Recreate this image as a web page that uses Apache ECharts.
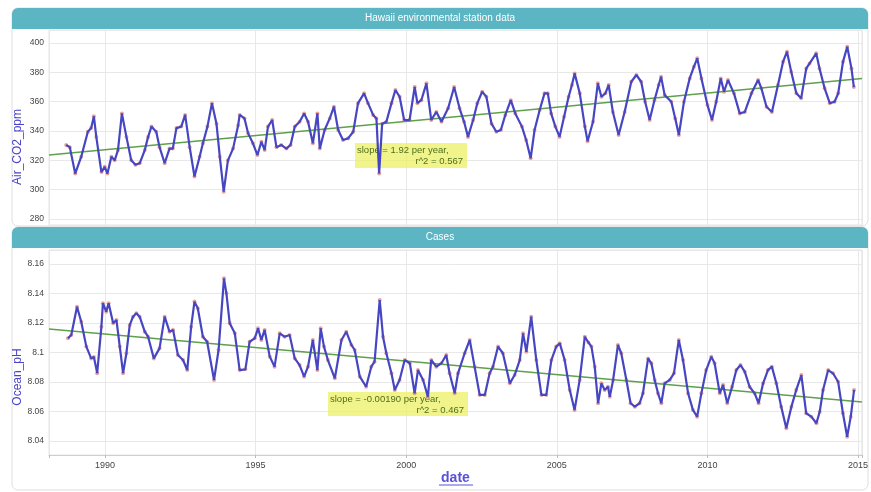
<!DOCTYPE html>
<html>
<head>
<meta charset="utf-8">
<script src="https://cdn.jsdelivr.net/npm/echarts@6/dist/echarts.min.js"></script>
<style>html,body{margin:0;padding:0;background:#fff}#c{width:871px;height:492px}</style>
</head>
<body>
<div id="c"></div>
<script>
const co2Dates = [1988.71,1988.83,1989.01,1989.21,1989.43,1989.54,1989.63,1989.71,1989.88,1989.99,1990.08,1990.21,1990.32,1990.43,1990.56,1990.71,1990.87,1991.01,1991.15,1991.32,1991.43,1991.54,1991.70,1991.81,1991.98,1992.14,1992.25,1992.37,1992.53,1992.66,1992.81,1992.97,1993.14,1993.25,1993.40,1993.55,1993.70,1993.81,1993.94,1994.08,1994.25,1994.42,1994.47,1994.63,1994.75,1994.91,1995.06,1995.19,1995.30,1995.41,1995.55,1995.69,1995.85,1996.02,1996.16,1996.30,1996.46,1996.61,1996.74,1996.90,1997.05,1997.13,1997.29,1997.46,1997.60,1997.74,1997.90,1998.07,1998.24,1998.40,1998.60,1998.73,1998.90,1999.01,1999.10,1999.20,1999.34,1999.51,1999.64,1999.78,1999.93,2000.11,2000.28,2000.37,2000.50,2000.67,2000.83,2001.00,2001.17,2001.39,2001.59,2001.77,2001.92,2002.05,2002.22,2002.36,2002.52,2002.66,2002.83,2002.99,2003.14,2003.29,2003.47,2003.62,2003.84,2003.98,2004.13,2004.26,2004.43,2004.59,2004.70,2004.81,2004.95,2005.09,2005.24,2005.39,2005.50,2005.59,2005.76,2005.93,2006.02,2006.20,2006.36,2006.48,2006.61,2006.72,2006.86,2007.05,2007.25,2007.47,2007.64,2007.80,2007.93,2008.08,2008.24,2008.38,2008.46,2008.58,2008.80,2008.93,2009.05,2009.22,2009.41,2009.55,2009.66,2009.80,2010.00,2010.15,2010.29,2010.44,2010.55,2010.68,2010.88,2011.07,2011.24,2011.46,2011.68,2011.79,2011.96,2012.14,2012.34,2012.51,2012.64,2012.78,2012.95,2013.11,2013.28,2013.39,2013.61,2013.72,2013.89,2014.06,2014.22,2014.34,2014.50,2014.64,2014.78,2014.86];
const co2Values = [330.5,329,311,322.5,339.5,342,350,336,312,315.6,311,322.5,320,327,352,336,320,317,318,327,336,343,339.5,329,318,328,328,342,343,351,329,309,322.5,331.6,343,359,345,322.5,298.6,320,328,344,351,348.6,338.4,331.6,323.6,332.7,327,343,347.5,329,330.5,328,330.5,343,346.3,352,346.3,331.6,352,328,340.7,348.6,356.6,340.7,333.9,335,339.5,359,365.7,359,351,348.6,311,345,346.3,359,368,363.4,347.5,347.5,370,359,361,372.5,347.5,353,346.3,355.5,370,355.5,346.3,336,347.5,359,366.8,363.4,345,339.5,340.7,351,361,352,343,333.9,321.4,340.7,354.3,365.7,365.7,352,343,336,349.8,363.4,371.4,379.3,365.7,343,333,346.3,372.5,363.4,365.7,371.4,353,337.3,353,373.6,378.2,373.6,360,347.5,361,371.4,377,364.5,360,348.6,337.3,360,375.9,383.9,389.6,375.9,357.7,347.5,360,375.9,366.8,374.8,365.7,352,353,365.7,374.8,369.1,356.6,353,371.4,387.3,394.1,380.5,365.7,362.3,382.7,386.1,393,382.7,369.1,359,360,365.7,387.3,397.5,382.7,370];

const phDates = [1988.77,1988.88,1989.07,1989.21,1989.38,1989.54,1989.63,1989.74,1989.88,1989.93,1990.04,1990.12,1990.27,1990.38,1990.49,1990.60,1990.71,1990.82,1990.93,1991.04,1991.15,1991.32,1991.43,1991.62,1991.81,1991.98,1992.14,1992.26,1992.42,1992.59,1992.73,1992.86,1992.97,1993.08,1993.25,1993.39,1993.62,1993.77,1993.95,1994.03,1994.14,1994.31,1994.47,1994.66,1994.80,1994.97,1995.08,1995.19,1995.30,1995.47,1995.63,1995.80,1995.96,1996.13,1996.30,1996.46,1996.61,1996.74,1996.90,1997.05,1997.16,1997.27,1997.40,1997.63,1997.85,1998.01,1998.18,1998.29,1998.46,1998.67,1998.84,1998.95,1999.12,1999.23,1999.34,1999.51,1999.62,1999.78,1999.95,2000.12,2000.28,2000.39,2000.56,2000.72,2000.83,2001.00,2001.17,2001.33,2001.44,2001.61,2001.72,2001.94,2002.11,2002.27,2002.44,2002.61,2002.77,2002.88,2003.05,2003.21,2003.44,2003.60,2003.77,2003.88,2003.99,2004.15,2004.32,2004.49,2004.65,2004.82,2004.98,2005.10,2005.26,2005.43,2005.59,2005.76,2005.93,2006.05,2006.15,2006.26,2006.37,2006.48,2006.59,2006.70,2006.76,2006.87,2007.03,2007.14,2007.31,2007.45,2007.59,2007.75,2007.86,2008.03,2008.14,2008.25,2008.36,2008.47,2008.58,2008.75,2008.89,2009.05,2009.19,2009.36,2009.52,2009.66,2009.80,2009.96,2010.13,2010.24,2010.41,2010.52,2010.66,2010.82,2010.96,2011.10,2011.24,2011.40,2011.57,2011.70,2011.85,2012.01,2012.14,2012.29,2012.45,2012.62,2012.79,2012.95,2013.12,2013.28,2013.45,2013.62,2013.73,2013.84,2014.01,2014.17,2014.34,2014.50,2014.64,2014.76,2014.87];
const phValues = [8.1096,8.1119,8.131,8.1209,8.104,8.096,8.097,8.086,8.1175,8.1334,8.1277,8.1334,8.1198,8.122,8.104,8.086,8.0995,8.1186,8.1243,8.1266,8.1243,8.1141,8.1107,8.096,8.1028,8.1243,8.1141,8.1153,8.0983,8.0949,8.0881,8.1175,8.1345,8.13,8.1107,8.1073,8.0814,8.1017,8.1503,8.1401,8.1198,8.113,8.0881,8.0886,8.1073,8.1096,8.1164,8.1085,8.1153,8.0972,8.0904,8.113,8.1107,8.1119,8.096,8.0915,8.0836,8.0904,8.1085,8.0881,8.1164,8.104,8.0949,8.0825,8.1085,8.1141,8.1051,8.1017,8.0836,8.0768,8.0904,8.0938,8.1356,8.1107,8.0995,8.0859,8.0746,8.0814,8.0949,8.0927,8.0723,8.0881,8.0814,8.07,8.0949,8.0904,8.0927,8.0983,8.0859,8.0723,8.0859,8.0995,8.1085,8.0904,8.0712,8.0712,8.0859,8.0904,8.104,8.0995,8.0791,8.0847,8.0949,8.113,8.1005,8.1243,8.0949,8.0712,8.0712,8.0949,8.104,8.1062,8.0949,8.0746,8.061,8.0814,8.1107,8.1068,8.104,8.0904,8.0656,8.0791,8.0746,8.0768,8.07,8.0814,8.1051,8.0995,8.0814,8.0656,8.0633,8.0656,8.0723,8.096,8.0927,8.0814,8.0723,8.0656,8.0791,8.0814,8.0859,8.1085,8.0949,8.0723,8.061,8.0565,8.0723,8.0881,8.0972,8.0927,8.0723,8.078,8.0656,8.0768,8.0881,8.0915,8.087,8.0768,8.0723,8.0656,8.0791,8.0881,8.0904,8.0791,8.0633,8.0486,8.0633,8.0746,8.0847,8.0588,8.0565,8.052,8.0599,8.0746,8.0881,8.0859,8.0802,8.0588,8.0429,8.0565,8.0746];

const trendDates = [1988.14, 2015.13];
const co2Trend = [323.7, 375.9];
const phTrend = [8.1160, 8.0665];

const xTicks = [1990, 1995, 2000, 2005, 2010, 2015];
const co2Ticks = [280, 300, 320, 340, 360, 380, 400];
const phTicks = [8.04, 8.06, 8.08, 8.1, 8.12, 8.14, 8.16];

const co2Note = ['slope = 1.92 per year,', 'r^2 = 0.567'];
const phNote = ['slope = -0.00190 per year,', 'r^2 = 0.467'];

const pair = (xs, ys) => xs.map((x, i) => [x, ys[i]]);
const near = (v, list) => list.some(t => Math.abs(v - t) < 1e-6);

const FONT = 'Liberation Sans, Arial, sans-serif';
const lineColor = '#4646c2';
const dotColor = '#e88a7c';
const trendColor = '#5fa04a';
const teal = '#5bb5c3';
const gridColor = '#e8e8e8';

const chart = echarts.init(document.getElementById('c'), null, {renderer: 'canvas'});

function xAxisFor(gi, showLabels) {
  return {
    type: 'value', gridIndex: gi, min: trendDates[0], max: trendDates[1], splitNumber: 5,
    axisLine: {show: showLabels, lineStyle: {color: '#cfcfcf'}},
    axisTick: {show: showLabels, length: 3, lineStyle: {color: '#bbb'}},
    axisLabel: {show: showLabels, fontSize: 9, color: '#444', fontFamily: FONT, margin: 6,
      formatter: v => near(v, xTicks) ? String(Math.round(v)) : ''},
    splitLine: {show: true, lineStyle: {color: gridColor, width: 1}},
    name: showLabels ? 'date' : '', nameLocation: 'middle', nameGap: 15,
    nameTextStyle: {fontSize: 14, fontWeight: 'bold', color: '#5a52d6', fontFamily: FONT}
  };
}

function yAxisFor(gi, min, max, ticks) {
  return {
    type: 'value', gridIndex: gi, min: min, max: max, splitNumber: 7,
    axisLine: {show: false}, axisTick: {show: false},
    axisLabel: {fontSize: 8.5, color: '#444', fontFamily: FONT, margin: 5,
      formatter: v => near(v, ticks) ? String(+v.toFixed(4)) : ''},
    splitLine: {show: true, lineStyle: {color: gridColor, width: 1}}
  };
}

const option = {
  backgroundColor: '#ffffff',
  animation: false,
  grid: [
    {left: 49, width: 813, top: 30, height: 195, show: true, borderColor: '#e4e4e4', borderWidth: 1},
    {left: 49, width: 813, top: 250, height: 205, show: true, borderColor: '#e4e4e4', borderWidth: 1}
  ],
  xAxis: [xAxisFor(0, false), xAxisFor(1, true)],
  yAxis: [
    yAxisFor(0, 275.9, 408.9, co2Ticks),
    yAxisFor(1, 8.0305, 8.1695, phTicks)
  ],
  series: [
    {type: 'line', xAxisIndex: 0, yAxisIndex: 0, data: pair(trendDates, co2Trend), showSymbol: false,
      lineStyle: {color: trendColor, width: 1.5}, z: 3, silent: true},
    {type: 'scatter', xAxisIndex: 0, yAxisIndex: 0, data: pair(co2Dates, co2Values), symbolSize: 4,
      itemStyle: {color: dotColor}, z: 2},
    {type: 'line', xAxisIndex: 0, yAxisIndex: 0, data: pair(co2Dates, co2Values), showSymbol: false,
      lineStyle: {color: lineColor, width: 2.2}, z: 4},
    {type: 'line', xAxisIndex: 1, yAxisIndex: 1, data: pair(trendDates, phTrend), showSymbol: false,
      lineStyle: {color: trendColor, width: 1.5}, z: 3, silent: true},
    {type: 'scatter', xAxisIndex: 1, yAxisIndex: 1, data: pair(phDates, phValues), symbolSize: 4,
      itemStyle: {color: dotColor}, z: 2},
    {type: 'line', xAxisIndex: 1, yAxisIndex: 1, data: pair(phDates, phValues), showSymbol: false,
      lineStyle: {color: lineColor, width: 2.2}, z: 4}
  ],
  graphic: [
    {type: 'rect', z: -1, shape: {x: 12, y: 8, width: 856, height: 218, r: 6}, style: {fill: 'none', stroke: '#dedede', lineWidth: 1}},
    {type: 'rect', z: 1, shape: {x: 12, y: 8, width: 856, height: 21, r: [6, 6, 0, 0]}, style: {fill: teal}},
    {type: 'text', z: 2, x: 440, y: 18.5, style: {text: 'Hawaii environmental station data', fill: '#ffffff', fontSize: 10, fontFamily: FONT, align: 'center', verticalAlign: 'middle'}},
    {type: 'rect', z: -1, shape: {x: 12, y: 227, width: 856, height: 263, r: 6}, style: {fill: 'none', stroke: '#dedede', lineWidth: 1}},
    {type: 'rect', z: 1, shape: {x: 12, y: 227, width: 856, height: 21, r: [6, 6, 0, 0]}, style: {fill: teal}},
    {type: 'text', z: 2, x: 440, y: 237.5, style: {text: 'Cases', fill: '#ffffff', fontSize: 10, fontFamily: FONT, align: 'center', verticalAlign: 'middle'}},
    {type: 'text', z: 2, x: 18, y: 147, rotation: Math.PI / 2, style: {text: 'Air_CO2_ppm', fill: '#4a44c8', fontSize: 12, fontFamily: FONT, align: 'center', verticalAlign: 'middle'}},
    {type: 'text', z: 2, x: 18, y: 377, rotation: Math.PI / 2, style: {text: 'Ocean_pH', fill: '#4a44c8', fontSize: 12, fontFamily: FONT, align: 'center', verticalAlign: 'middle'}},
    {type: 'line', z: 2, shape: {x1: 439, y1: 485, x2: 473, y2: 485}, style: {stroke: '#5a52d6', lineWidth: 1}},
    {type: 'rect', z: 1, shape: {x: 355, y: 143, width: 112, height: 25}, style: {fill: 'rgba(236,240,100,0.75)'}},
    {type: 'text', z: 1, x: 357, y: 150, style: {text: co2Note[0], fill: '#4f6e1c', fontSize: 9.5, fontFamily: FONT, align: 'left', verticalAlign: 'middle'}},
    {type: 'text', z: 1, x: 463, y: 161, style: {text: co2Note[1], fill: '#4f6e1c', fontSize: 9.5, fontFamily: FONT, align: 'right', verticalAlign: 'middle'}},
    {type: 'rect', z: 1, shape: {x: 328, y: 392, width: 140, height: 24}, style: {fill: 'rgba(236,240,100,0.75)'}},
    {type: 'text', z: 1, x: 330, y: 399, style: {text: phNote[0], fill: '#4f6e1c', fontSize: 9.5, fontFamily: FONT, align: 'left', verticalAlign: 'middle'}},
    {type: 'text', z: 1, x: 464, y: 410, style: {text: phNote[1], fill: '#4f6e1c', fontSize: 9.5, fontFamily: FONT, align: 'right', verticalAlign: 'middle'}}
  ]
};
chart.setOption(option);
</script>
</body>
</html>
